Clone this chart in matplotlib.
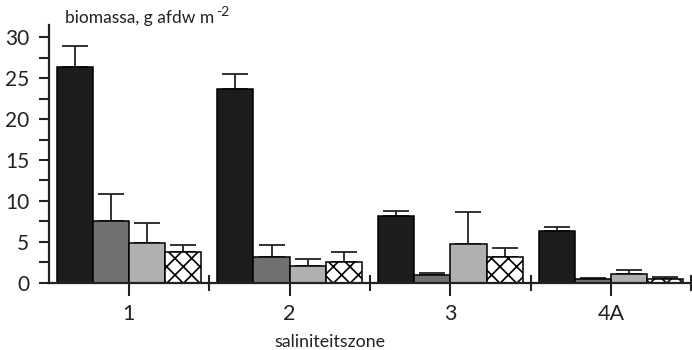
"""Biomassa per saliniteitszone: grouped bars with upper-only error bars."""

import matplotlib

matplotlib.use("Agg")
import matplotlib.pyplot as plt  # noqa: E402
import numpy as np  # noqa: E402

ZONES = ["1", "2", "3", "4A"]
# four series per zone (black, dark grey, light grey, cross-hatched)
SERIES_A = [26.4, 23.7, 8.2, 6.3]
SERIES_B = [7.6, 3.1, 0.9, 0.5]
SERIES_C = [4.9, 2.0, 4.7, 1.05]
SERIES_D = [3.7, 2.5, 3.1, 0.45]
ERR_A = [2.5, 1.8, 0.6, 0.5]
ERR_B = [3.2, 1.5, 0.3, 0.1]
ERR_C = [2.4, 0.9, 4.0, 0.5]
ERR_D = [0.9, 1.3, 1.1, 0.2]

YTICKS = [0, 5, 10, 15, 20, 25, 30]

_STYLES = [
    dict(color="#1c1c1c", hatch=None),
    dict(color="#707070", hatch=None),
    dict(color="#b0b0b0", hatch=None),
    dict(color="white", hatch="xx"),
]

plt.rcParams["font.family"] = ["Lato", "DejaVu Sans"]
plt.rcParams["hatch.linewidth"] = 1.2
plt.rcParams["hatch.color"] = "black"

W, H, DPI = 692, 350, 100
fig = plt.figure(figsize=(W / DPI, H / DPI), dpi=DPI)
# axes placed in pixel terms: y-axis at x=48.5, baseline at y=282.7, top at y=25
ax = fig.add_axes([48.5 / W, (H - 282.7) / H, (691.5 - 48.5) / W, (282.7 - 25) / H])

x = np.arange(len(ZONES))
width = 0.225
values = [SERIES_A, SERIES_B, SERIES_C, SERIES_D]
errors = [ERR_A, ERR_B, ERR_C, ERR_D]
for k, (vals, errs, st) in enumerate(zip(values, errors, _STYLES)):
    pos = x + (k - 1.5) * width
    ax.bar(pos, vals, width, color=st["color"], hatch=st["hatch"],
           edgecolor="black", linewidth=1.1, zorder=2)
    ax.errorbar(pos, vals, yerr=[np.zeros(len(errs)), errs], fmt="none",
                ecolor="#222", elinewidth=1.3, capsize=9.5, capthick=1.3, zorder=1)

ax.set_xlim(-0.5, len(ZONES) - 0.5)
ax.set_ylim(0, 31.5)

for side in ("top", "right"):
    ax.spines[side].set_visible(False)
for side in ("left", "bottom"):
    ax.spines[side].set_linewidth(1.6)
    ax.spines[side].set_color("#222")

ax.set_yticks(YTICKS)
ax.set_yticks(np.arange(2.5, 30, 5), minor=True)
ax.tick_params(axis="y", which="both", direction="out", length=7, width=1.5,
               color="#222", labelsize=15, pad=7, labelcolor="#222")

ax.set_xticks(x)
ax.set_xticklabels(ZONES)
ax.set_xticks(x + 0.5, minor=True)
ax.tick_params(axis="x", which="major", direction="out", length=9, width=1.5,
               color="#222", labelsize=15.5, pad=6, labelcolor="#222")
ax.tick_params(axis="x", which="minor", direction="inout", length=12, width=1.5,
               color="#222")

t = fig.text(65 / W, 1 - 23 / H, "biomassa, g afdw m", fontsize=12.5,
             va="baseline", ha="left", color="#222")
fig.canvas.draw()
bb = t.get_window_extent()
fig.text((bb.x1 + 2) / W, 1 - 16 / H, "-2", fontsize=10,
         va="baseline", ha="left", color="#222")

fig.text(330 / W, 1 - 347 / H, "saliniteitszone", fontsize=12.8,
         va="baseline", ha="center", color="#222")

fig.savefig("out.png", dpi=DPI)
